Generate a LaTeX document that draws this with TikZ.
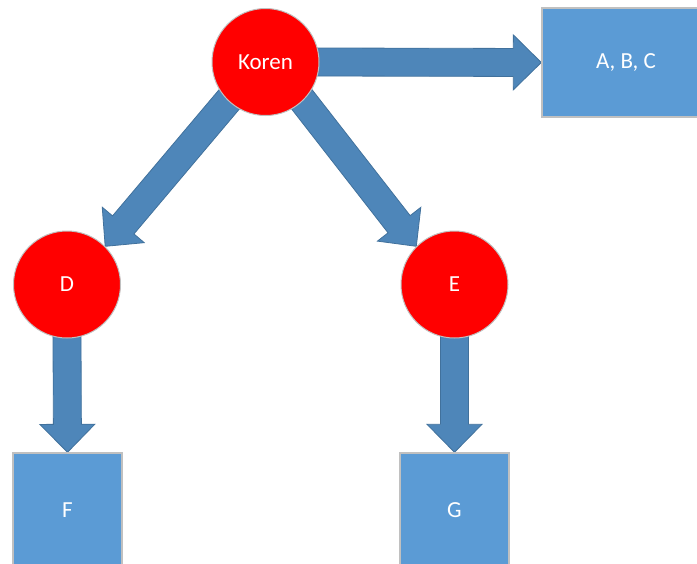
\documentclass[tikz,border=0pt]{standalone}
\usepackage{fontspec}
\setmainfont{Carlito}
\usetikzlibrary{calc,backgrounds}
\definecolor{nodered}{HTML}{FF0000}
\definecolor{boxblue}{HTML}{5B9BD5}
\definecolor{arrowblue}{HTML}{4E86B9}
\definecolor{arrowedge}{HTML}{41719C}
\definecolor{rim}{HTML}{C0C0C0}
\newcommand\blockarr[2]{%
  \coordinate (bs) at ($(#1)!-4pt!(#2)$);
  \coordinate (bb) at ($(#2)!28pt!(#1)$);
  \draw[blockarrow] ($(bs)!14pt!90:(#2)$) -- ($(bb)!14pt!90:(#2)$) -- ($(bb)!27.5pt!90:(#2)$)
    -- (#2) -- ($(bb)!27.5pt!-90:(#2)$) -- ($(bb)!14pt!-90:(#2)$) -- ($(bs)!14pt!-90:(#2)$) -- cycle;}
\begin{document}
\begin{tikzpicture}[x=1pt,y=-1pt,
  labelfont/.style={text=white, font=\fontsize{23}{27}\selectfont},
  circ/.style={circle, fill=nodered, draw=rim, line width=1pt, minimum size=107pt, inner sep=0pt, labelfont},
  sq/.style={rectangle, fill=boxblue, draw=rim, line width=1.4pt, inner sep=0pt, labelfont},
  blockarrow/.style={fill=arrowblue, draw=arrowedge, line width=0.8pt, line join=miter}]
\useasboundingbox (0,0) rectangle (697,563);
\clip (0,0) rectangle (697,563);
\node[circ] (koren) at (265.5,62) {Koren};
\node[circ] (d) at (67,284.5) {D};
\node[circ] (e) at (454.5,284.5) {E};
\node[sq, minimum width=168pt, minimum height=109pt] (abc) at (626,62.5) {A, B, C};
\node[sq, minimum width=109pt, minimum height=114pt] (f) at (67.5,510) {F};
\node[sq, minimum width=109pt, minimum height=114pt] (g) at (454.5,510) {G};
\begin{scope}[on background layer]
  \blockarr{koren.east}{abc.west}
  \blockarr{koren.226}{d.45}
  \blockarr{koren.-46}{e.135}
  \blockarr{d.south}{f.north}
  \blockarr{e.south}{g.north}
\end{scope}
\end{tikzpicture}
\end{document}
